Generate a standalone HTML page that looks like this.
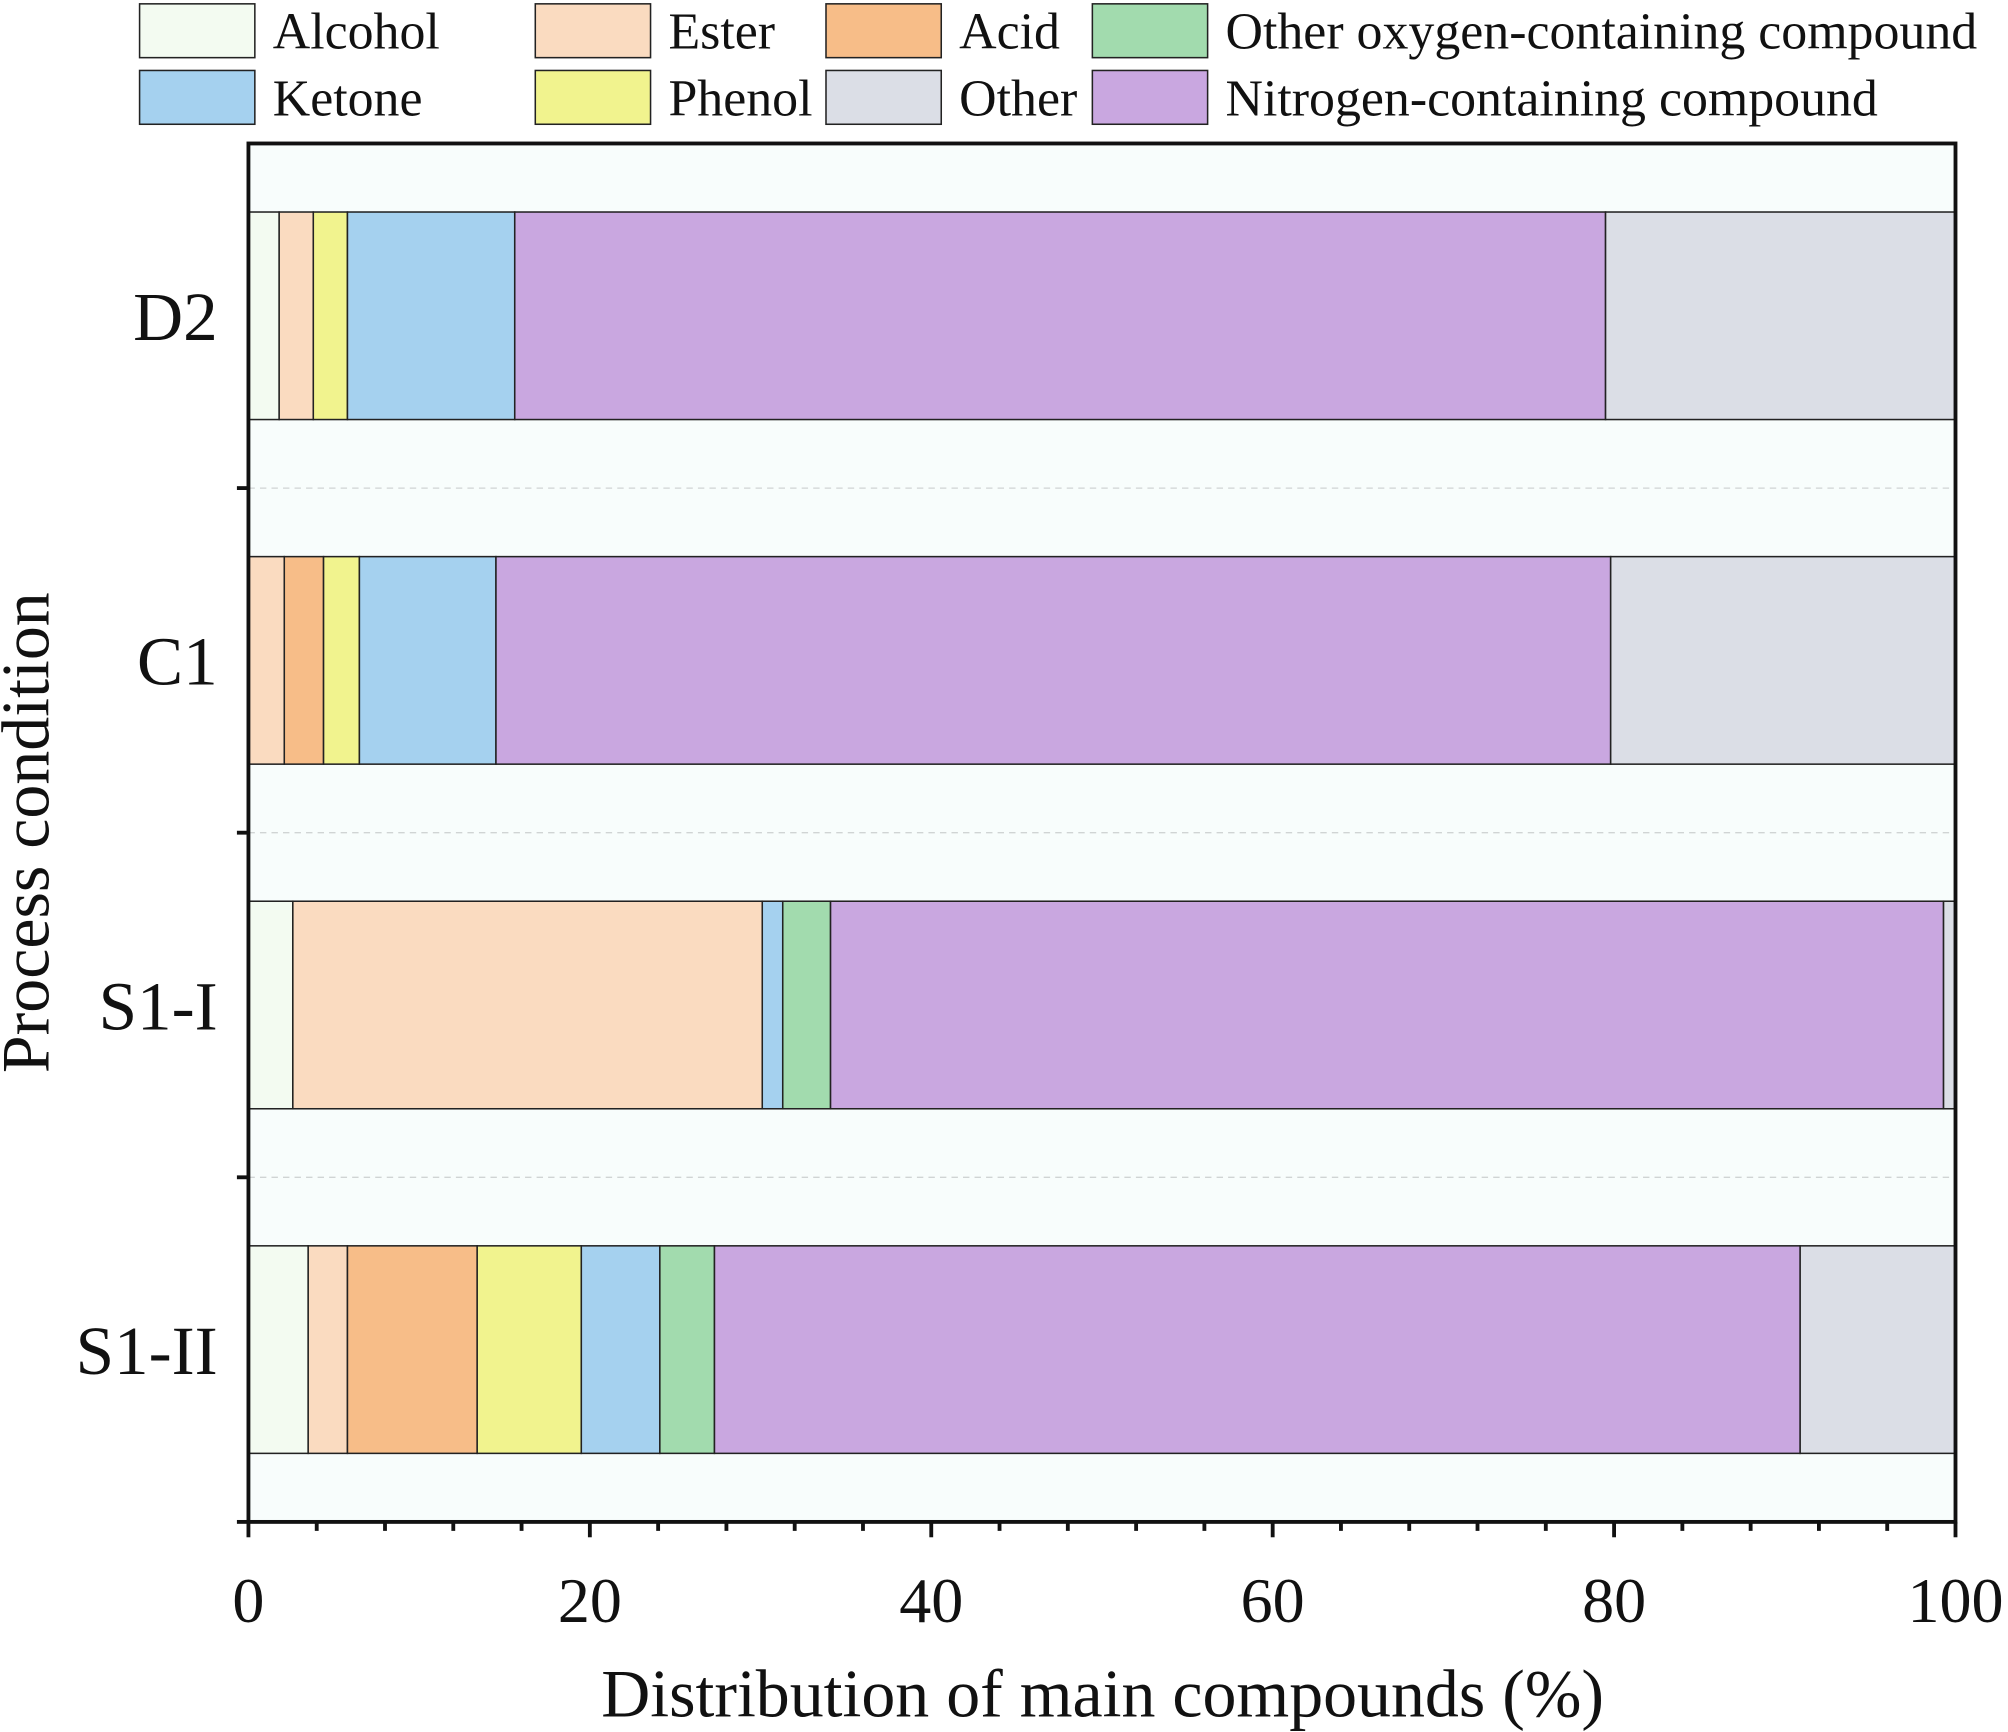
<!DOCTYPE html>
<html><head><meta charset="utf-8"><style>
html,body{margin:0;padding:0;background:#fff;}
svg{display:block;font-family:"Liberation Serif",serif;}
</style></head><body>
<svg id="chart" width="2008" height="1732" viewBox="0 0 1568 1352" preserveAspectRatio="none" xmlns="http://www.w3.org/2000/svg"></svg>
<script>
const categories = ["D2","C1","S1-I","S1-II"];
const seriesNames = ["Alcohol","Ester","Acid","Phenol","Ketone","Other oxygen-containing compound","Nitrogen-containing compound","Other"];
const alcohol  = [1.8, 0,   2.6, 3.5];
const ester    = [2.0, 2.1, 27.5, 2.3];
const acid     = [0,   2.3, 0,   7.6];
const phenol   = [2.0, 2.1, 0,   6.1];
const ketone   = [9.8, 8.0, 1.2, 4.6];
const otherOxy = [0,   0,   2.8, 3.2];
const nitrogen = [63.9,65.3,65.2,63.6];
const other    = [20.5,20.2,0.7, 9.1];
const xTicks = [0,20,40,60,80,100];
const colors = ["#f3fbf1","#fadbc0","#f7bd88","#f1f38e","#a5d1ef","#a2dbae","#c9a7e0","#dbdee6"];
const series = [alcohol,ester,acid,phenol,ketone,otherOxy,nitrogen,other];

const svg = document.getElementById('chart');
const NS = "http://www.w3.org/2000/svg";
function mk(tag, attrs, parent){const e=document.createElementNS(NS,tag);for(const k in attrs)e.setAttribute(k,attrs[k]);(parent||svg).appendChild(e);return e;}
const X0=194, X1=1527, Y0=112, Y1=1188;
const xs = v => X0 + (v/100)*(X1-X0);
const band = (Y1-Y0)/categories.length;
const yc = i => Y0 + band*(i+0.5);
const barH = 162;

let bg = mk('rect',{x:X0,y:Y0,width:X1-X0,height:Y1-Y0,fill:'#f8fdfc'});



for(let i=1;i<categories.length;i++){
  const y=Y0+band*i;
  const g=mk('line',{x1:X0,x2:X1,y1:y,y2:y,stroke:'#d0d4d4','stroke-width':1,'stroke-dasharray':'5,4'});
  
  
}

categories.forEach((c,i)=>{
  let cum=0;
  series.forEach((s,j)=>{
    const v=s[i];
    if(v>0){
      const r=mk('rect',{x:xs(cum),y:yc(i)-barH/2,width:xs(cum+v)-xs(cum),height:barH,fill:colors[j],stroke:'#222','stroke-width':1.2});
      
      
    }
    cum+=v;
  });
  const t=mk('text',{x:170,y:yc(i)+19,'font-size':54,'text-anchor':'end',fill:'#111'});
  t.textContent=c;
  
  
});

const frame=mk('rect',{x:X0,y:Y0,width:X1-X0,height:Y1-Y0,fill:'none',stroke:'#111','stroke-width':3});



for(let i=1;i<=categories.length;i++){
  const y=Y0+band*i;
  const t=mk('line',{x1:X0-9,x2:X0,y1:y,y2:y,stroke:'#111','stroke-width':3});
  
  
}
for(let v=0;v<=100;v+=4){
  const major = v%20===0;
  const t=mk('line',{x1:xs(v),x2:xs(v),y1:Y1,y2:Y1+(major?12:7),stroke:'#111','stroke-width':3});
  
  
}
xTicks.forEach(v=>{
  const t=mk('text',{x:xs(v),y:1266,'font-size':50,'text-anchor':'middle',fill:'#111'});
  t.textContent=v;
  
  
});
const xt=mk('text',{x:861,y:1340,'font-size':53,'text-anchor':'middle',fill:'#111'});
xt.textContent='Distribution of main compounds (%)';


const yt=mk('text',{x:0,y:0,'font-size':53,'text-anchor':'middle',fill:'#111',transform:'translate(38,650) rotate(-90)'});
yt.textContent='Process condition';



// legend
const legCols=[109,418,645,853];
const legOrder=[[0,1,2,5],[4,3,7,6]];
legOrder.forEach((row,r)=>{
  row.forEach((si,c)=>{
    const y=3+r*52;
    const b=mk('rect',{x:legCols[c],y:y,width:90,height:42,fill:colors[si],stroke:'#222','stroke-width':1.2});
    
    
    const t=mk('text',{x:legCols[c]+104,y:y+35,'font-size':40.5,fill:'#111'});
    t.textContent=seriesNames[si];
    
    
  });
});
</script>
</body></html>
